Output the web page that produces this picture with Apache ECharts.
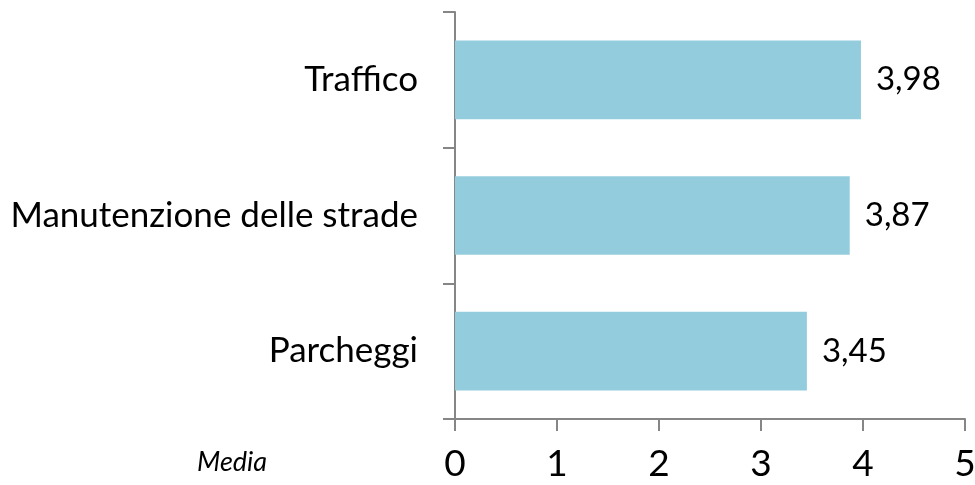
<!DOCTYPE html>
<html>
<head>
<meta charset="utf-8">
<script src="https://cdn.jsdelivr.net/npm/echarts@6/dist/echarts.min.js"></script>
<style>
  html, body { margin: 0; padding: 0; background: #fff; }
  #chart { width: 975px; height: 485px; }
</style>
</head>
<body>
<div id="chart"></div>
<script>
// Categories listed top to bottom
const categories = ['Traffico', 'Manutenzione delle strade', 'Parcheggi'];
const medie = [3.98, 3.87, 3.45];
const xTicks = [0, 1, 2, 3, 4, 5];
const axisTitle = 'Media';

const FONT = 'Lato, "Open Sans", sans-serif';
const AXIS_GREY = '#868686';

const chart = echarts.init(document.getElementById('chart'), null, { renderer: 'canvas' });

chart.setOption({
  animation: false,
  backgroundColor: '#ffffff',
  grid: {
    left: 455, right: 10, top: 12, bottom: 66,
    containLabel: false,
    outerBoundsMode: 'none'
  },
  xAxis: {
    type: 'value',
    min: xTicks[0],
    max: xTicks[xTicks.length - 1],
    interval: 1,
    axisLine: { show: true, lineStyle: { color: AXIS_GREY, width: 2 } },
    axisTick: { show: true, length: 12, lineStyle: { color: AXIS_GREY, width: 2 } },
    splitLine: { show: false },
    axisLabel: {
      margin: 27,
      fontFamily: FONT,
      fontSize: 37,
      color: '#000'
    }
  },
  yAxis: {
    type: 'category',
    data: categories,
    inverse: true,
    axisLine: { show: true, lineStyle: { color: AXIS_GREY, width: 2 } },
    axisTick: { show: true, length: 12, alignWithLabel: false, lineStyle: { color: AXIS_GREY, width: 2 } },
    axisLabel: {
      margin: 37,
      fontFamily: FONT,
      fontSize: 35,
      color: '#000'
    }
  },
  series: [{
    type: 'bar',
    data: medie,
    barCategoryGap: '42%',
    itemStyle: { color: '#93CDDD' },
    label: {
      show: true,
      position: 'right',
      distance: 15,
      fontFamily: FONT,
      fontSize: 33,
      color: '#000',
      formatter: p => p.value.toFixed(2).replace('.', ',')
    }
  }],
  graphic: [{
    type: 'text',
    left: 197,
    top: 449,
    style: {
      text: axisTitle,
      font: 'italic 27px ' + FONT,
      fill: '#000'
    }
  }]
});
</script>
</body>
</html>
